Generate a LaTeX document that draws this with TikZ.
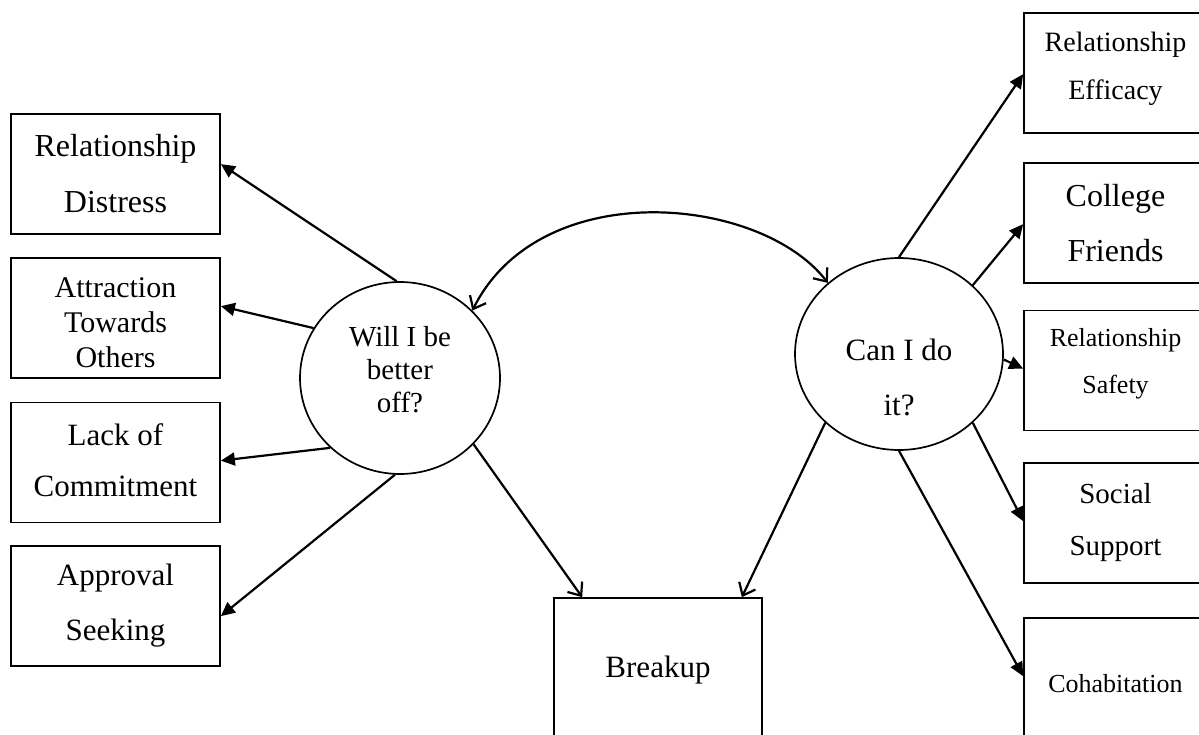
\documentclass[tikz,border=0pt]{standalone}
\usepackage{fontspec}
\setmainfont{Liberation Serif}
\usetikzlibrary{arrows.meta,shapes.geometric,calc}
\tikzset{
  box/.style={draw, line width=1.7pt, rectangle, inner sep=0pt},
  lbox/.style={box, minimum width=209pt, minimum height=120pt},
  rbox/.style={box, minimum width=183pt, minimum height=120pt},
  latent/.style={draw, line width=1.7pt, ellipse, inner sep=0pt},
  txt/.style={align=center, inner sep=0pt},
  fa/.style={line width=2.2pt, -{Triangle[length=14pt,width=13pt]}},
  oa/.style={line width=2.2pt, -{Straight Barb[length=11pt,width=18pt,line width=2.2pt]}},
  ob/.style={line width=2.2pt, {Straight Barb[length=11pt,width=18pt,line width=2.2pt]}-{Straight Barb[length=11pt,width=18pt,line width=2.2pt]}},
}
\newcommand{\fs}[2]{\fontsize{#1pt}{#2pt}\selectfont}
\begin{document}
\begin{tikzpicture}[x=1pt,y=-1pt]
\useasboundingbox (0,0) rectangle (1199,735);
% left boxes
\node[lbox, label={[txt, font=\fs{32}{56}]center:{Relationship\\Distress}}] (rd) at (115.5,174) {};
\node[lbox, label={[txt, yshift=-5pt, font=\fs{30}{35}]center:{Attraction\\Towards\\Others}}] (ato) at (115.5,318) {};
\node[lbox, label={[txt, yshift=2pt, font=\fs{31}{51}]center:{Lack of\\Commitment}}] (loc) at (115.5,462.5) {};
\node[lbox, label={[txt, font=\fs{31}{55}]center:{Approval\\Seeking}}] (as) at (115.5,606) {};
% right boxes
\node[rbox, label={[txt, yshift=4pt, font=\fs{28}{48}]center:{Relationship\\Efficacy}}] (re) at (1115.5,73) {};
\node[rbox, label={[txt, font=\fs{32}{55}]center:{College\\Friends}}] (cf) at (1115.5,223) {};
\node[rbox, label={[txt, yshift=7pt, font=\fs{26}{47}]center:{Relationship\\Safety}}] (rs) at (1115.5,370.5) {};
\node[rbox, label={[txt, font=\fs{29}{52}]center:{Social\\Support}}] (ss) at (1115.5,523) {};
\node[rbox, minimum height=124pt, label={[txt, yshift=-4pt, font=\fs{26}{47}]center:{Cohabitation}}] (co) at (1115.5,680) {};
% breakup
\node[box, minimum width=208pt, minimum height=139pt, label={[txt, yshift=-3pt, font=\fs{31}{40}]center:{Breakup}}] (bu) at (658,667.5) {};
% latent circles
\node[latent, minimum width=200pt, minimum height=192pt, label={[txt, yshift=8pt, font=\fs{29}{33}]center:{Will I be\\better\\off?}}] (will) at (400,378) {};
\node[latent, minimum width=208pt, minimum height=192pt, label={[txt, yshift=-23pt, font=\fs{31}{55}]center:{Can I do\\it?}}] (can) at (899,354) {};
% arrows from will
\draw[fa] (will.92)  -- ([yshift=-51pt]rd.north east);
\draw[fa] (will.150) -- ([yshift=-49pt]ato.north east);
\draw[fa] (will.225) -- ([yshift=-59pt]loc.north east);
\draw[fa] (will.267) -- ([yshift=-71pt]as.north east);
\draw[oa] (will.-42) -- ([xshift=29pt]bu.north west);
% arrows from can
\draw[oa] (can.223) -- ([xshift=-21pt]bu.north east);
\draw[fa] (can.90)  -- ([yshift=-62pt]re.north west);
\draw[fa] (can.43)  -- ([yshift=-62pt]cf.north west);
\draw[fa] (can.-3)  -- ([yshift=-59pt]rs.north west);
\draw[fa] (can.-43) -- ([yshift=-59pt]ss.north west);
\draw[fa] (can.270) -- ([yshift=-59pt]co.north west);
% correlation
\draw[ob] (will.43) .. controls (540,175) and (760,195) .. (can.135);
\end{tikzpicture}
\end{document}
